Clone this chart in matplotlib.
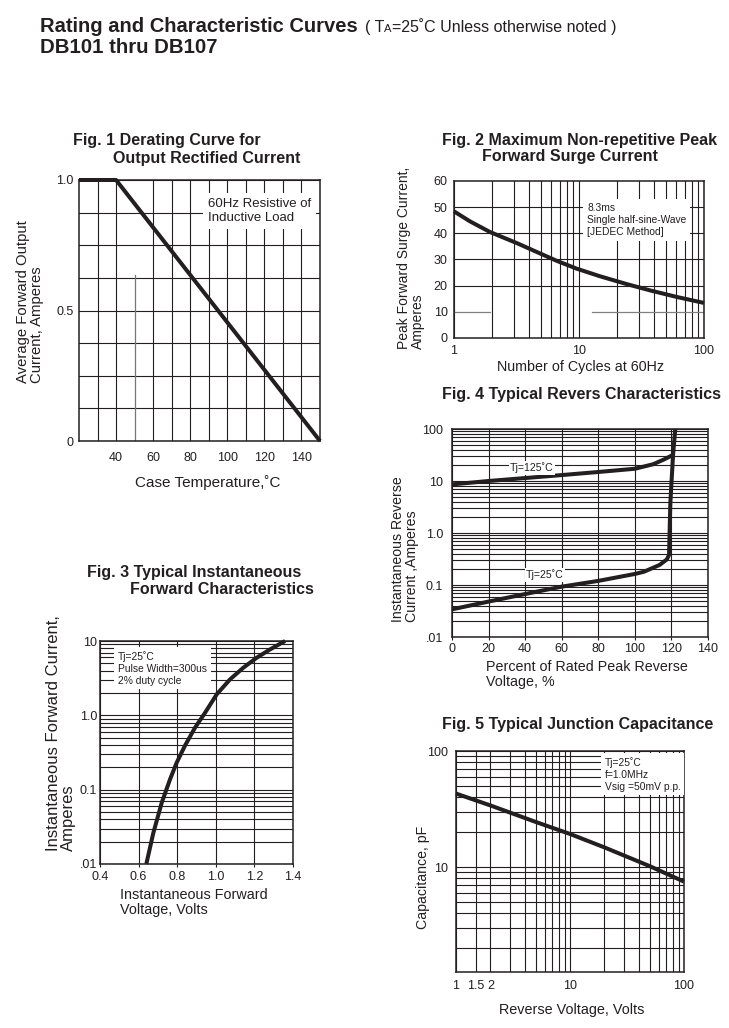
import matplotlib.pyplot as plt
import matplotlib.ticker as ticker
import numpy as np

plt.rcParams['font.family'] = ['Liberation Sans', 'DejaVu Sans']

# Fig. 1 derating curve
case_temp = [20, 40, 150]
avg_current = [1.0, 1.0, 0.0]

# Fig. 2 peak surge current
cycles = [1, 1.34, 1.94, 3.17, 4.58, 6.63, 9.58, 14.7, 24.1, 37, 60.4, 100]
surge_amps = [48.4, 44.6, 40.5, 36.3, 32.9, 29.5, 26.5, 23.6, 20.6, 18.2, 15.7, 13.4]

# Fig. 3 forward characteristics
fwd_volts = [0.64, 0.676, 0.72, 0.763, 0.797, 0.84, 0.892, 0.944, 1.005, 1.074, 1.143, 1.212, 1.281, 1.359]
fwd_amps = [0.01, 0.026, 0.067, 0.138, 0.23, 0.39, 0.68, 1.08, 1.92, 3.05, 4.38, 5.96, 7.7, 10]

# Fig. 4 reverse characteristics
pct_125 = [0, 20, 40, 60, 80, 100, 110, 116, 121]
rev_125 = [8.6, 10, 11.4, 13, 14.9, 17.2, 21, 26, 32]
pct_25 = [0, 20, 40, 60, 80, 100, 105, 113.5, 117.5, 118.7, 119.4, 120.9, 122.1]
rev_25 = [0.034, 0.048, 0.067, 0.093, 0.12, 0.163, 0.18, 0.243, 0.31, 0.38, 3.8, 32, 100]

# Fig. 5 junction capacitance
rev_volts = [1, 2, 5, 10, 20, 50, 100]
cap_pf = [43, 34, 24.5, 19.3, 14.8, 10.2, 7.5]

INK = '#231f20'
W, H = 729, 1028
fig = plt.figure(figsize=(W / 100, H / 100), dpi=100)


def px_axes(l, t, r, b):
    return fig.add_axes([l / W, 1 - b / H, (r - l) / W, (b - t) / H])


def px_text(x, y, s, **kw):
    kw.setdefault('color', INK)
    return fig.text(x / W, 1 - y / H, s, **kw)


def style(ax, xpad, ypad, xtick_len=0):
    for sp in ax.spines.values():
        sp.set_linewidth(1.1)
        sp.set_color(INK)
    ax.tick_params(which='both', length=0, labelsize=9, labelcolor=INK)
    ax.tick_params(axis='x', which='major', length=xtick_len, width=0.8, pad=xpad, color=INK)
    ax.tick_params(axis='y', pad=ypad)
    ax.set_axisbelow(True)


def boxed(x, y, s, size):
    px_text(x, y, s, fontsize=size, va='top', ha='left', linespacing=1.25,
            bbox=dict(boxstyle='square,pad=0.35', fc='white', ec='none'))


grid_kw = dict(color=INK, linewidth=0.8)
curve_kw = dict(color=INK, linewidth=2.9, solid_capstyle='butt', solid_joinstyle='round',
                clip_on=False, zorder=5)

# main heading
t1 = px_text(40, 31.5, 'Rating and Characteristic Curves', fontsize=14.5, fontweight='bold', va='baseline')
rend = fig.canvas.get_renderer()
x = t1.get_window_extent(rend).x1 + 7
t2 = fig.text(x / W, 1 - 32 / H, '( T', fontsize=11.5, va='baseline', color=INK)
x = t2.get_window_extent(rend).x1
t3 = fig.text(x / W, 1 - 32 / H, 'A', fontsize=8, va='baseline', color=INK)
x = t3.get_window_extent(rend).x1
fig.text(x / W, 1 - 32 / H, '=25˚C Unless otherwise noted )', fontsize=11.5, va='baseline', color=INK)
px_text(40, 53, 'DB101 thru DB107', fontsize=14.7, fontweight='bold', va='baseline')

# ---- Fig. 1
ax1 = px_axes(79, 180, 320, 441)
ax1.plot(case_temp, avg_current, **curve_kw)
ax1.set_xlim(20, 150)
ax1.set_ylim(0, 1.0)
ax1.set_xticks([40, 60, 80, 100, 120, 140])
ax1.set_yticks([0, 0.5, 1.0], ['0', '0.5', '1.0'])
ax1.xaxis.set_minor_locator(ticker.FixedLocator([t for t in range(30, 150, 10) if t != 50]))
ax1.yaxis.set_minor_locator(ticker.MultipleLocator(0.125))
ax1.grid(True, which='both', **grid_kw)
ax1.axvline(50, ymax=0.636, color='#777777', linewidth=0.9)
style(ax1, 8, 4)
px_text(73, 140, 'Fig. 1 Derating Curve for', fontsize=11.5, fontweight='bold', va='center')
px_text(113, 158, 'Output Rectified Current', fontsize=11.5, fontweight='bold', va='center')
px_text(208, 483, 'Case Temperature,˚C', fontsize=11, ha='center', va='center')
px_text(30, 302, 'Average Forward Output\nCurrent, Amperes', fontsize=10.7, rotation=90,
        ha='center', va='center', multialignment='left', linespacing=1.05)
boxed(208, 198, '60Hz Resistive of\nInductive Load', 9.5)

# ---- Fig. 2
ax2 = px_axes(454, 181, 704, 338)
ax2.plot(cycles, surge_amps, **curve_kw)
ax2.set_xscale('log')
ax2.set_xlim(1, 100)
ax2.set_ylim(0, 60)
ax2.set_xticks([1, 10, 100], ['1', '10', '100'])
ax2.xaxis.set_minor_locator(ticker.LogLocator(subs=np.arange(2, 10)))
ax2.xaxis.set_minor_formatter(ticker.NullFormatter())
ax2.set_yticks(range(0, 61, 10))
ax2.grid(True, axis='x', which='both', **grid_kw)
for v in [20, 30, 40, 50]:
    ax2.axhline(v, **grid_kw)
ax2.axhline(10, xmax=0.144, color='#808080', linewidth=0.9)
ax2.axhline(10, xmin=0.55, color='#808080', linewidth=0.9)
style(ax2, 5, 4.5)
px_text(442, 140, 'Fig. 2 Maximum Non-repetitive Peak', fontsize=11.5, fontweight='bold', va='center')
px_text(482, 157, 'Forward Surge Current', fontsize=11.5, fontweight='bold', va='center')
px_text(581, 367, 'Number of Cycles at 60Hz', fontsize=10.3, ha='center', va='center')
px_text(411, 258, 'Peak Forward Surge Current,\nAmperes', fontsize=10, rotation=90,
        ha='center', va='center', multialignment='left', linespacing=1.0)
boxed(587, 203, '8.3ms\nSingle half-sine-Wave\n[JEDEC Method]', 7.4)

# ---- Fig. 4
ax4 = px_axes(452, 429, 708, 637)
ax4.plot(pct_125, rev_125, **curve_kw)
ax4.plot(pct_25, rev_25, **curve_kw)
ax4.set_yscale('log')
ax4.set_xlim(0, 140)
ax4.set_ylim(0.01, 100)
ax4.set_xticks(range(0, 141, 20))
ax4.set_yticks([0.01, 0.1, 1, 10, 100], ['.01', '0.1', '1.0', '10', '100'])
ax4.yaxis.set_minor_locator(ticker.LogLocator(subs=np.arange(2, 10)))
ax4.yaxis.set_minor_formatter(ticker.NullFormatter())
ax4.grid(True, which='both', **grid_kw)
style(ax4, 2, 6.5, xtick_len=2.2)
px_text(442, 395, 'Fig. 4 Typical Revers Characteristics', fontsize=11.5, fontweight='bold', va='center')
px_text(486, 660, 'Percent of Rated Peak Reverse\nVoltage, %', fontsize=10.3, ha='left', va='top',
        linespacing=1.1)
px_text(405, 549, 'Instantaneous Reverse\nCurrent ,Amperes', fontsize=10.2, rotation=90,
        ha='center', va='center', multialignment='left', linespacing=1.05)
px_text(532, 468, 'Tj=125˚C', fontsize=7.6, ha='center', va='center',
        bbox=dict(boxstyle='square,pad=0.15', fc='white', ec='none'))
px_text(545, 575, 'Tj=25˚C', fontsize=7.6, ha='center', va='center',
        bbox=dict(boxstyle='square,pad=0.15', fc='white', ec='none'))

# ---- Fig. 3
ax3 = px_axes(100, 641, 293, 864)
ax3.plot(fwd_volts, fwd_amps, **curve_kw)
ax3.set_yscale('log')
ax3.set_xlim(0.4, 1.4)
ax3.set_ylim(0.01, 10)
ax3.set_xticks([0.4, 0.6, 0.8, 1.0, 1.2, 1.4])
ax3.set_yticks([0.01, 0.1, 1, 10], ['.01', '0.1', '1.0', '10'])
ax3.yaxis.set_minor_locator(ticker.LogLocator(subs=np.arange(2, 10)))
ax3.yaxis.set_minor_formatter(ticker.NullFormatter())
ax3.grid(True, which='both', **grid_kw)
style(ax3, 3, 2, xtick_len=2.2)
px_text(87, 573, 'Fig. 3 Typical Instantaneous', fontsize=11.5, fontweight='bold', va='center')
px_text(130, 590, 'Forward Characteristics', fontsize=11.5, fontweight='bold', va='center')
px_text(120, 888, 'Instantaneous Forward\nVoltage, Volts', fontsize=10.4, ha='left', va='top',
        linespacing=1.05)
px_text(61, 733, 'Instantaneous Forward Current,\nAmperes', fontsize=12, rotation=90,
        ha='center', va='center', multialignment='left', linespacing=1.0)
boxed(118, 651, 'Tj=25˚C\nPulse Width=300us\n2% duty cycle', 7.4)

# ---- Fig. 5
ax5 = px_axes(456, 751, 684, 972)
ax5.plot(rev_volts, cap_pf, **curve_kw)
ax5.set_xscale('log')
ax5.set_yscale('log')
ax5.set_xlim(1, 100)
ax5.set_ylim(1.25, 100)
ax5.set_xticks([1, 1.5, 2, 10, 100], ['1', '1.5', '2', '10', '100'])
ax5.set_yticks([10, 100], ['10', '100'])
for axis in (ax5.xaxis, ax5.yaxis):
    axis.set_minor_locator(ticker.LogLocator(subs=np.arange(2, 10)))
    axis.set_minor_formatter(ticker.NullFormatter())
ax5.grid(True, which='both', **grid_kw)
style(ax5, 6, 6)
px_text(442, 725, 'Fig. 5 Typical Junction Capacitance', fontsize=11.5, fontweight='bold', va='center')
px_text(572, 1010, 'Reverse Voltage, Volts', fontsize=10.4, ha='center', va='center')
px_text(423, 877, 'Capacitance, pF', fontsize=10.2, rotation=90, ha='center', va='center')
boxed(605, 757, 'Tj=25˚C\nf=1.0MHz\nVsig =50mV p.p.', 7.4)

fig.savefig('out.png', dpi=100, facecolor='white')
